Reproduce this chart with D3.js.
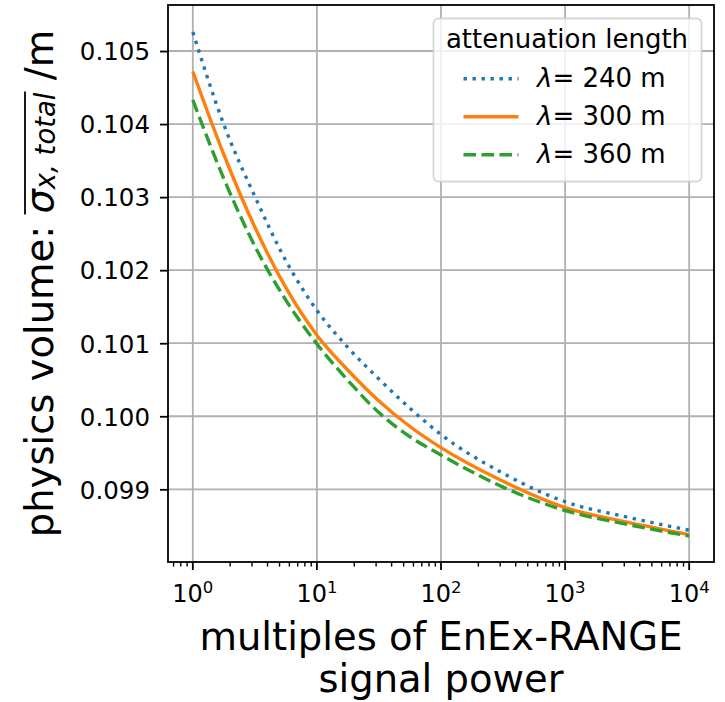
<!DOCTYPE html>
<html>
<head>
<meta charset="UTF-8">
<script src="https://d3js.org/d3.v7.min.js"></script>
<style>
  body { margin: 0; background: #fff; }
  text { font-family: "DejaVu Sans", sans-serif; fill: #000; }
</style>
</head>
<body>
<div id="chart"></div>
<script>
// values
var power = [1, 1.78, 3.16, 5.62, 10, 17.8, 31.6, 56.2, 100, 316, 1000, 3160, 10000];
var sigma240 = [0.10526, 0.10399, 0.10301, 0.10213, 0.10145, 0.10094, 0.10051, 0.10011, 0.09975, 0.09922, 0.09883, 0.09862, 0.09844];
var sigma300 = [0.10472, 0.10358, 0.10259, 0.10176, 0.10111, 0.10063, 0.10021, 0.09986, 0.09957, 0.09911, 0.09875, 0.09855, 0.09838];
var sigma360 = [0.10433, 0.10325, 0.10233, 0.10159, 0.10099, 0.10049, 0.10005, 0.09972, 0.09947, 0.09903, 0.09871, 0.09852, 0.09836];
var seriesNames = ["240", "300", "360"];
var xTicks = [1, 10, 100, 1000, 10000];
var yTicks = [0.099, 0.100, 0.101, 0.102, 0.103, 0.104, 0.105];

var W = 725, H = 702;
var pl = 168, pr = 714, pt = 5, pb = 562;

var svg = d3.select("#chart").append("svg")
  .attr("width", W).attr("height", H);

var x = d3.scaleLog()
  .domain([Math.pow(10, -0.2), Math.pow(10, 4.2)])
  .range([pl, pr]);
var y = d3.scaleLinear()
  .domain([0.098005, 0.10563])
  .range([pb, pt]);

svg.append("defs").append("clipPath").attr("id", "plot")
  .append("rect").attr("x", pl).attr("y", pt)
  .attr("width", pr - pl).attr("height", pb - pt);

// grid
var grid = svg.append("g").attr("stroke", "#b0b0b0").attr("stroke-width", 1.8);
grid.selectAll(".gx").data(xTicks).enter().append("line")
  .attr("x1", function(d) { return x(d); }).attr("x2", function(d) { return x(d); })
  .attr("y1", pt).attr("y2", pb);
grid.selectAll(".gy").data(yTicks).enter().append("line")
  .attr("y1", function(d) { return y(d); }).attr("y2", function(d) { return y(d); })
  .attr("x1", pl).attr("x2", pr);

// curves
var styles = [
  { color: "#1f77b4", dash: "3.4,5.6", values: sigma240 },
  { color: "#ff7f0e", dash: null, values: sigma300 },
  { color: "#2ca02c", dash: "12.6,5.4", values: sigma360 }
];
var line = d3.line()
  .x(function(d) { return x(d[0]); })
  .y(function(d) { return y(d[1]); })
  .curve(d3.curveMonotoneX);

svg.append("g").attr("clip-path", "url(#plot)")
  .selectAll("path").data(styles).enter().append("path")
  .attr("d", function(s) { return line(power.map(function(p, i) { return [p, s.values[i]]; })); })
  .attr("fill", "none")
  .attr("stroke", function(s) { return s.color; })
  .attr("stroke-width", 3.4)
  .attr("stroke-dasharray", function(s) { return s.dash; });

// y axis
var yAxis = d3.axisLeft(y).tickValues(yTicks).tickSize(8).tickPadding(10)
  .tickFormat(d3.format(".3f"));
var gy = svg.append("g").attr("transform", "translate(" + pl + ",0)").call(yAxis);
gy.select(".domain").remove();
gy.selectAll(".tick line").attr("stroke", "#000").attr("stroke-width", 1.8);
gy.selectAll(".tick text").attr("font-size", "24.5px").attr("font-family", "DejaVu Sans").attr("dy", "0.36em");

// x axis (log, with minor ticks)
var minor = [];
for (var e = -1; e < 5; e++) {
  for (var m = 2; m < 10; m++) {
    var v = m * Math.pow(10, e);
    if (v > x.domain()[0] && v < x.domain()[1]) minor.push(v);
  }
}
var gx = svg.append("g").attr("transform", "translate(0," + pb + ")");
gx.selectAll(".minor").data(minor).enter().append("line")
  .attr("x1", function(d) { return x(d); }).attr("x2", function(d) { return x(d); })
  .attr("y1", 0).attr("y2", 4.6).attr("stroke", "#000").attr("stroke-width", 1.4);
gx.selectAll(".major").data(xTicks).enter().append("line")
  .attr("x1", function(d) { return x(d); }).attr("x2", function(d) { return x(d); })
  .attr("y1", 0).attr("y2", 8).attr("stroke", "#000").attr("stroke-width", 1.8);
var xl = gx.selectAll(".xl").data(xTicks).enter().append("text")
  .attr("x", function(d) { return x(d); })
  .attr("y", 40)
  .attr("text-anchor", "middle")
  .attr("font-size", "24px");
xl.append("tspan").text("10");
xl.append("tspan").attr("font-size", "16.5px").attr("dy", -9)
  .text(function(d) { return Math.round(Math.log10(d)); });

// frame
svg.append("rect").attr("x", pl).attr("y", pt)
  .attr("width", pr - pl).attr("height", pb - pt)
  .attr("fill", "none").attr("stroke", "#000").attr("stroke-width", 1.8);

// x label
var cx = (pl + pr) / 2;
svg.append("text").attr("x", cx).attr("y", 650).attr("text-anchor", "middle")
  .attr("font-size", "38.5px").text("multiples of EnEx-RANGE");
svg.append("text").attr("x", cx).attr("y", 692).attr("text-anchor", "middle")
  .attr("font-size", "38.5px").text("signal power");

// y label
var yl = svg.append("g").attr("transform", "translate(53," + ((pt + pb) / 2) + ") rotate(-90)");
var ylt = yl.append("text").attr("text-anchor", "middle").attr("font-size", "38.5px");
var pre = "physics volume: ";
ylt.append("tspan").text(pre);
ylt.append("tspan").attr("font-style", "italic").text("σ");
ylt.append("tspan").attr("font-style", "italic").attr("font-size", "27.5px").attr("dy", 2).text("x, total");
ylt.append("tspan").attr("dy", -2).text(" /m");
var node = ylt.node();
var total = node.getComputedTextLength();
var a = node.getSubStringLength(0, pre.length);
var b = node.getSubStringLength(pre.length, 9);
yl.append("line")
  .attr("x1", -total / 2 + a - 1).attr("x2", -total / 2 + a + b + 1)
  .attr("y1", -28).attr("y2", -28)
  .attr("stroke", "#000").attr("stroke-width", 1.8);

// legend
var lg = svg.append("g");
lg.append("rect").attr("x", 433.5).attr("y", 18.5).attr("width", 268).attr("height", 163)
  .attr("rx", 5).attr("fill", "#fff").attr("fill-opacity", 0.8)
  .attr("stroke", "#cccccc").attr("stroke-opacity", 0.8).attr("stroke-width", 1.8);
lg.append("text").attr("x", 567).attr("y", 48).attr("text-anchor", "middle")
  .attr("font-size", "26px").text("attenuation length");
var rows = lg.selectAll(".row").data(styles).enter().append("g")
  .attr("transform", function(d, i) { return "translate(0," + (87.3 + i * 38) + ")"; });
rows.append("line").attr("x1", 463.5).attr("x2", 518.5).attr("y1", -8.5).attr("y2", -8.5)
  .attr("stroke", function(s) { return s.color; }).attr("stroke-width", 3.4)
  .attr("stroke-dasharray", function(s) { return s.dash; });
var rt = rows.append("text").attr("x", 537).attr("font-size", "26px");
rt.append("tspan").attr("font-style", "italic").text("λ");
rt.append("tspan").text(function(d, i) { return "= " + seriesNames[i] + " m"; });
</script>
</body>
</html>
